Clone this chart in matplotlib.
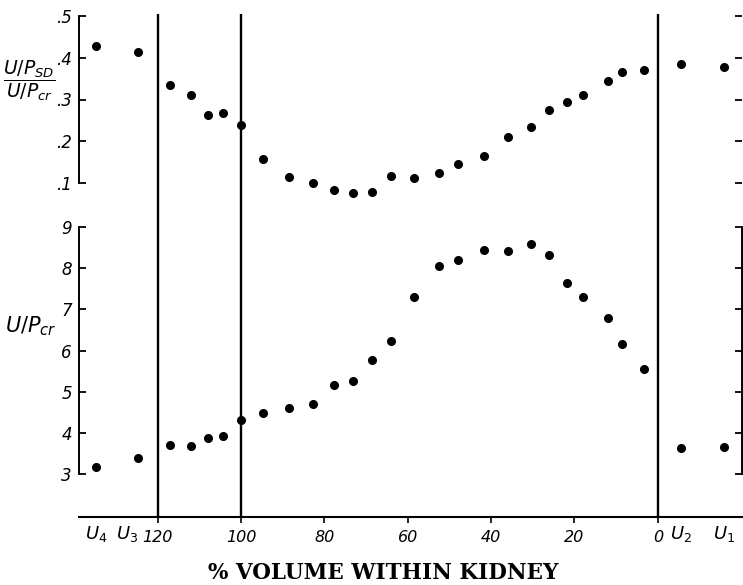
import numpy as np
import matplotlib
matplotlib.use("Agg")
import matplotlib.pyplot as plt
import matplotlib.transforms as mtrans

# % volume within kidney at each sample (shared by both panels)
volume = [117, 112, 108, 104.3, 100, 94.7, 88.4, 82.7, 77.8, 73.2, 68.5, 64,
          58.5, 52.6, 48, 41.7, 36, 30.4, 26.1, 21.8, 17.9, 12, 8.5, 3.3]
# urine samples outside the kidney (U4, U3, U2, U1)
u_names = ["$U_4$", "$U_3$", "$U_2$", "$U_1$"]
u_pos = [134.8, 124.8, -5.6, -15.9]

# upper panel: (U/P_SD) / (U/P_cr)
ratio = [.335, .311, .263, .267, .239, .157, .114, .100, .083, .076, .078, .116,
         .111, .123, .145, .164, .210, .234, .275, .294, .311, .344, .366, .370]
ratio_u = [.428, .414, .385, .378]

# lower panel: U/P_cr
upcr = [3.71, 3.68, 3.88, 3.93, 4.32, 4.49, 4.61, 4.71, 5.15, 5.27, 5.76, 6.24,
        7.29, 8.05, 8.20, 8.44, 8.41, 8.59, 8.32, 7.63, 7.29, 6.78, 6.17, 5.54]
upcr_u = [3.17, 3.39, 3.63, 3.66]

xticks = [120, 100, 80, 60, 40, 20, 0]
divisions = [120, 100, 0]

W, H = 743, 585
fig = plt.figure(figsize=(W / 100, H / 100), dpi=100)
fig.patch.set_facecolor("white")

def fx(px):
    return px / W

def fy(py):
    return 1 - py / H

left, right = fx(79), fx(742)
xlim = (138.9, -20.2)

# base axes: x axis + vertical division lines
base = fig.add_axes([left, fy(517), right - left, fy(14) - fy(517)])
base.set_xlim(*xlim)
base.set_ylim(0, 1)
for s in ["left", "right", "top"]:
    base.spines[s].set_visible(False)
base.spines["bottom"].set_linewidth(1.5)
base.set_yticks([])
base.set_xticks(xticks)
base.set_xticklabels([str(t) for t in xticks])
base.set_xticks(u_pos, minor=True)
base.set_xticklabels(u_names, minor=True)
base.tick_params(axis="x", which="major", direction="out", length=4, width=1.2,
                 labelsize=11.5, pad=5)
base.tick_params(axis="x", which="minor", length=0, labelsize=13, pad=5)
for lab in base.get_xticklabels() + base.get_xticklabels(minor=True):
    lab.set_fontstyle("italic")

# hand-lettered labels sit a little off their ticks
def nudge(lab, dx):
    lab.set_transform(lab.get_transform() +
                      mtrans.ScaledTranslation(dx / 100, 0, fig.dpi_scale_trans))

nudge(base.get_xticklabels(minor=True)[1], -11)  # U3

for d in divisions:
    base.axvline(d, color="black", lw=1.7)

def panel(bottom_px, top_px, ylim, ticks, labels, xs, ys, xu, yu):
    ax = fig.add_axes([left, fy(bottom_px), right - left, fy(top_px) - fy(bottom_px)])
    ax.patch.set_visible(False)
    ax.set_xlim(*xlim)
    ax.set_ylim(*ylim)
    ax.set_xticks([])
    ax.spines["top"].set_visible(False)
    ax.spines["bottom"].set_visible(False)
    ax.spines["left"].set_linewidth(1.4)
    ax.spines["right"].set_linewidth(1.4)
    ax.set_yticks(ticks)
    ax.set_yticklabels(labels, fontstyle="italic", fontsize=12)
    ax.tick_params(axis="y", direction="in", length=5, width=1.3, right=True,
                   pad=5)
    ax.plot(xs, ys, "o", color="black", ms=5.5, clip_on=False)
    ax.plot(xu, yu, "o", color="black", ms=5.5, clip_on=False)
    return ax

top_ax = panel(183, 16, (0.1, 0.5), [.1, .2, .3, .4, .5],
               [".1", ".2", ".3", ".4", ".5"], volume, ratio, u_pos, ratio_u)
top_ax.spines["right"].set_visible(False)

bot_ax = panel(474, 227, (3, 9), list(range(3, 10)),
               [str(t) for t in range(3, 10)], volume, upcr, u_pos, upcr_u)

fig.text(fx(29), fy(81), r"$\dfrac{U/P_{SD}}{U/P_{cr}}$", fontsize=13.5,
         ha="center", va="center")
fig.text(fx(31), fy(326), r"$U/P_{cr}$", fontsize=15, ha="center", va="center")

fig.text(fx(383), fy(573), "% VOLUME WITHIN KIDNEY", family="DejaVu Serif",
         weight="bold", fontsize=15.5, ha="center", va="center")

fig.savefig("out.png", dpi=100, facecolor="white")
